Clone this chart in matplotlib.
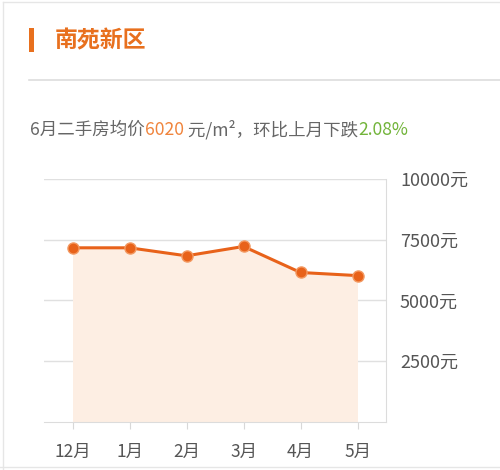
import matplotlib
matplotlib.use('Agg')
import matplotlib.pyplot as plt
from matplotlib.lines import Line2D
from matplotlib.patches import Rectangle

plt.rcParams['font.family'] = ['Noto Sans CJK SC', 'DejaVu Sans']

# data
months = ['12月', '1月', '2月', '3月', '4月', '5月']
prices = [7165, 7165, 6835, 7220, 6148, 6020]
yticks = [2500, 5000, 7500, 10000]
title = '南苑新区'
sub_parts = [('6月二手房均价', '#666666'), ('6020', '#f0843c'),
             (' 元/m²，环比上月下跌', '#666666'), ('2.08%', '#72b43a')]

orange = '#e8621a'
W, H = 500, 470
fig = plt.figure(figsize=(W / 100, H / 100), dpi=100)

# card frame
fig.add_artist(Line2D([3 / W, 3 / W], [0, 1 - 2 / H], color='#e6e6e6', lw=1))
fig.add_artist(Line2D([3 / W, 1], [1 - 2 / H, 1 - 2 / H], color='#e6e6e6', lw=1))
fig.add_artist(Line2D([0, 1], [1 - 467 / H, 1 - 467 / H], color='#e6e6e6', lw=1))

# header
fig.add_artist(Rectangle((29 / W, 1 - 52 / H), 5 / W, 24 / H, color='#e8701e', lw=0))
fig.text(55 / W, 1 - 41 / H, title, fontsize=16.5, fontweight='bold',
         color='#e8701e', va='center', ha='left')
fig.add_artist(Line2D([29 / W, 1], [1 - 80 / H, 1 - 80 / H], color='#dddddd', lw=1.2))

# multi-colour subtitle
fig.canvas.draw()
r = fig.canvas.get_renderer()
x = 30
for s, c in sub_parts:
    t = fig.text(x / W, 1 - 130 / H, s, fontsize=12.6, color=c, va='center', ha='left')
    x += t.get_window_extent(renderer=r).width

ax = fig.add_axes([44 / W, 1 - 421.7 / H, (386 - 44) / W, (421.7 - 179) / H])
xs = list(range(len(months)))
ax.fill_between(xs, prices, 0, color='#fdeee3', lw=0)
ax.plot(xs, prices, color=orange, lw=2.2, marker='o', ms=8,
        markerfacecolor=orange, markeredgecolor='#f39a63', markeredgewidth=1, zorder=3)

ax.set_xlim(-0.5, 5.5)
ax.set_ylim(0, 10000)
ax.set_xticks(xs)
ax.set_xticklabels(months, fontsize=12.5, color='#555555')
ax.set_yticks(yticks)
ax.set_yticklabels([f'{v}元' for v in yticks], fontsize=13, color='#555555')
ax.yaxis.tick_right()
ax.tick_params(axis='y', length=0, pad=10)
ax.tick_params(axis='x', length=5, color='#d8d8d8', pad=10)
ax.grid(axis='y', color='#e0e0e0', lw=1)
ax.set_axisbelow(True)
for side in ['left', 'top']:
    ax.spines[side].set_visible(False)
for side in ['right', 'bottom']:
    ax.spines[side].set_color('#dcdcdc')

fig.savefig('out.png', dpi=100)
